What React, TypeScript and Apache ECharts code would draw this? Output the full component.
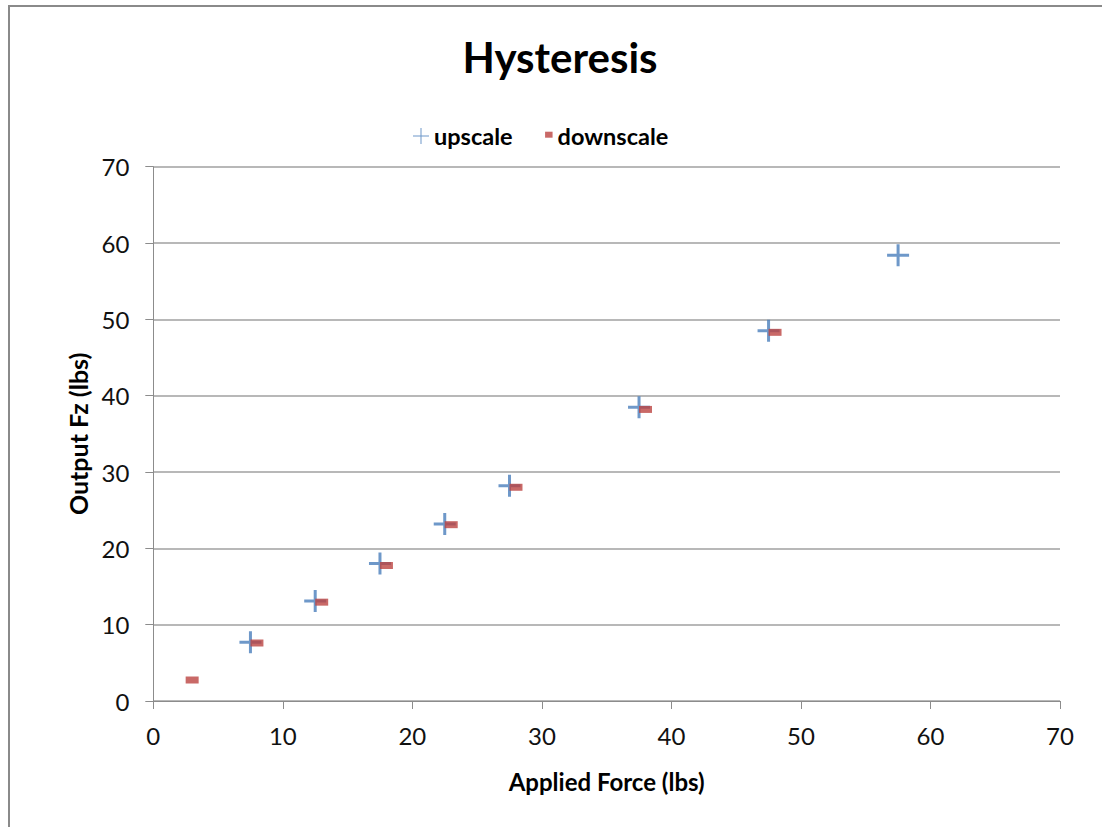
import React, { useEffect, useRef } from "react";
import * as echarts from "echarts";

// Hysteresis test: output Fz measured on loading (upscale) and unloading (downscale)
const upscaleForce = [7.5, 12.5, 17.5, 22.5, 27.5, 37.5, 47.5, 57.5];
const upscaleOutput = [7.7, 13.1, 18.0, 23.2, 28.2, 38.5, 48.5, 58.4];
const downscaleForce = [3, 8, 13, 18, 23, 28, 38, 48];
const downscaleOutput = [2.75, 7.6, 12.95, 17.75, 23.1, 28.0, 38.2, 48.3];

const seriesNames = ["upscale", "downscale"];
const axisMin = 0;
const axisMax = 70;
const axisStep = 10;

const BLUE = "#4a7ebb";
const RED = "#bb4441";
const FONT = "Lato, 'Open Sans', sans-serif";

// Thick cross for the data marks, thin cross and small offset bar for the legend
const PLUS_MARK = "path://M9.5,0 H12.5 V9.5 H22 V12.5 H12.5 V22 H9.5 V12.5 H0 V9.5 H9.5 Z";
const PLUS_ICON = "path://M7.5,0 H8.5 V7.5 H16 V8.5 H8.5 V16 H7.5 V8.5 H0 V7.5 H7.5 Z";
const BAR_ICON = "path://M0,0 M16,16 M8.5,3.7 H16 V9.7 H8.5 Z";

function toPairs(xs: number[], ys: number[]) {
  return xs.map((x, i) => [x, ys[i]]);
}

export default function App() {
  const ref = useRef<HTMLDivElement>(null);

  useEffect(() => {
    if (!ref.current) return;
    const chart = echarts.init(ref.current, null, { renderer: "svg" });
    chart.setOption({
      animation: false,
      backgroundColor: "#ffffff",
      title: {
        text: "Hysteresis",
        left: 555,
        textAlign: "center",
        top: 31,
        textStyle: { fontFamily: FONT, fontSize: 42, fontWeight: "bold", color: "#000" },
      },
      legend: {
        left: 408,
        top: 119,
        itemWidth: 16,
        itemHeight: 16,
        itemGap: 24,
        textStyle: { fontFamily: FONT, fontSize: 23.5, fontWeight: "bold", color: "#000" },
        data: [
          { name: seriesNames[0], icon: PLUS_ICON },
          { name: seriesNames[1], icon: BAR_ICON },
        ],
      },
      // chart-area frame: only its top and left edges fall inside the page
      graphic: [
        {
          type: "line",
          shape: { x1: 8, y1: 6, x2: 1102, y2: 6 },
          style: { stroke: "#8a8a8a", lineWidth: 2 },
          silent: true,
        },
        {
          type: "line",
          shape: { x1: 9, y1: 5, x2: 9, y2: 827 },
          style: { stroke: "#8a8a8a", lineWidth: 2 },
          silent: true,
        },
      ],
      grid: { left: 153.3, top: 166.7, right: 42, bottom: 126 },
      xAxis: {
        type: "value",
        min: axisMin,
        max: axisMax,
        interval: axisStep,
        name: "Applied Force (lbs)",
        nameLocation: "middle",
        nameGap: 68,
        nameTextStyle: { fontFamily: FONT, fontSize: 24, fontWeight: "bold", color: "#000" },
        axisLine: { show: true, lineStyle: { color: "#8c8c8c", width: 1 } },
        axisTick: { show: true, length: 8, lineStyle: { color: "#8c8c8c" } },
        splitLine: { show: false },
        axisLabel: { margin: 22, fontFamily: FONT, fontSize: 24, color: "#111" },
      },
      yAxis: {
        type: "value",
        min: axisMin,
        max: axisMax,
        interval: axisStep,
        name: "Output Fz (lbs)",
        nameLocation: "middle",
        nameGap: 63,
        nameTextStyle: { fontFamily: FONT, fontSize: 25, fontWeight: "bold", color: "#000" },
        axisLine: { show: true, lineStyle: { color: "#8c8c8c", width: 1 } },
        axisTick: { show: true, length: 8, lineStyle: { color: "#8c8c8c" } },
        splitLine: { show: true, lineStyle: { color: "#a0a0a0", width: 1.5 } },
        axisLabel: { margin: 24, fontFamily: FONT, fontSize: 24, color: "#111" },
      },
      series: [
        {
          name: seriesNames[0],
          type: "scatter",
          symbol: PLUS_MARK,
          symbolSize: [22, 22],
          itemStyle: { color: BLUE },
          data: toPairs(upscaleForce, upscaleOutput),
          z: 2,
        },
        {
          name: seriesNames[1],
          type: "scatter",
          symbol: "rect",
          symbolSize: [13, 7],
          itemStyle: { color: RED },
          data: toPairs(downscaleForce, downscaleOutput),
          z: 3,
        },
      ],
    });
    return () => chart.dispose();
  }, []);

  return (
    <div
      ref={ref}
      style={{ position: "absolute", left: 0, top: 0, width: 1102, height: 827 }}
    />
  );
}
